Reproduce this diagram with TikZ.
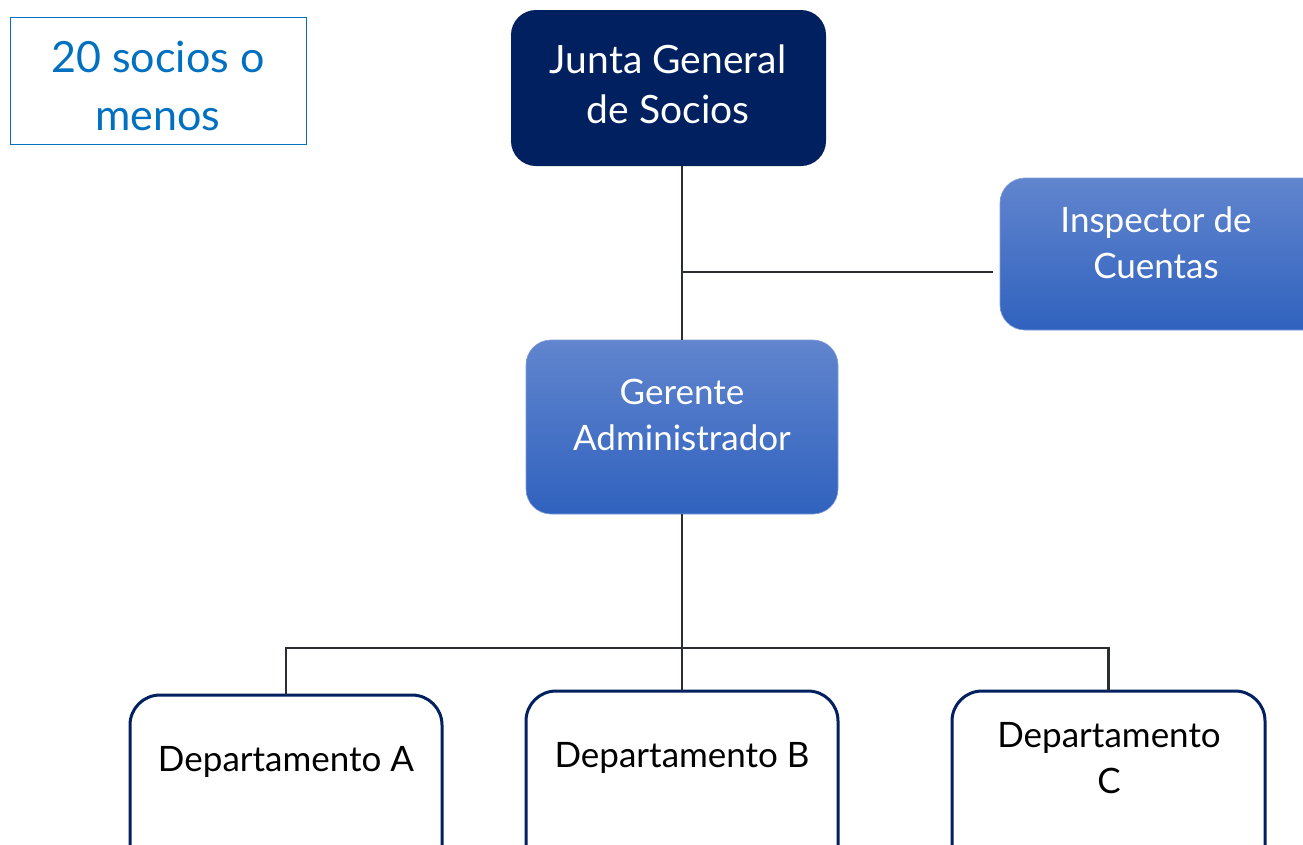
\documentclass[tikz,border=0pt]{standalone}
\usepackage{fontspec}
\setmainfont{Lato}
\definecolor{navy}{HTML}{002060}
\definecolor{gtop}{HTML}{6185CE}
\definecolor{gbot}{HTML}{3062BE}
\definecolor{lnk}{HTML}{2A2D34}
\definecolor{sblue}{HTML}{0070C0}
\tikzset{
  px/.style={x=1pt,y=-1pt},
  notebox/.style={draw=sblue, line width=1pt, fill=white, inner sep=0pt, outer sep=0pt},
  topbox/.style={fill=navy, rounded corners=25pt, inner sep=0pt, outer sep=0pt},
  gradbox/.style={top color=gtop, bottom color=gbot, draw=gtop!80!white, line width=0.6pt, rounded corners=25pt, inner sep=0pt, outer sep=0pt},
  deptbox/.style={draw=navy, line width=3pt, fill=white, rounded corners=30pt, inner sep=0pt, outer sep=0pt},
  boxtext/.style={align=center, inner sep=0pt},
  link/.style={draw=lnk, line width=2.2pt},
  notefont/.style={font=\fontsize{43}{58}\selectfont},
  bigfont/.style={font=\fontsize{39}{50}\selectfont},
  midfont/.style={font=\fontsize{35}{46}\selectfont},
}
\begin{document}
\begin{tikzpicture}[px]
\useasboundingbox (0,0) rectangle (1303,844);
\clip (0,0) rectangle (1303,844);
\fill[white] (0,0) rectangle (1303,844);

\coordinate (j1) at (682,272);
\coordinate (j2) at (682,648);

\node[notebox, minimum width=296pt, minimum height=127pt, anchor=north west] (note) at (10,17) {};
\node[boxtext, notefont, text=sblue] (notetext) at (158,86) {20 socios o\\menos};

\node[topbox, minimum width=315pt, minimum height=156pt, anchor=north west] (junta) at (511,10) {};
\node[boxtext, bigfont, text=white] (juntatext) at (668,84) {Junta General\\de Socios};

\node[gradbox, minimum width=330pt, minimum height=152pt, anchor=north west] (insp) at (1000,178) {};
\node[boxtext, midfont, text=white] (insptext) at (1156,243) {Inspector de\\Cuentas};

\node[gradbox, minimum width=312pt, minimum height=174pt, anchor=north west] (ger) at (526,340) {};
\node[boxtext, midfont, text=white] (gertext) at (682,415) {Gerente\\Administrador};

\node[deptbox, minimum width=312pt, minimum height=200pt, anchor=north west] (dA) at (130,695) {};
\node[deptbox, minimum width=312pt, minimum height=200pt, anchor=north west] (dB) at (526,691) {};
\node[deptbox, minimum width=313pt, minimum height=200pt, anchor=north west] (dC) at (952,691) {};
\node[boxtext, midfont] (dAtext) at (286,762) {Departamento A};
\node[boxtext, midfont] (dBtext) at (682,758) {Departamento B};
\node[boxtext, midfont] (dCtext) at (1109,758) {Departamento\\C};

\draw[link] (j1 |- junta.south) -- (j1 |- ger.north);
\draw[link] (j1) -- ([xshift=-7pt]j1 -| insp.west);
\draw[link] (j2 |- ger.south) -- (j2 |- dB.north);
\draw[link] (dA.north) -- (dA.north |- j2) -- (dC.north |- j2) -- (dC.north);
\end{tikzpicture}
\end{document}
